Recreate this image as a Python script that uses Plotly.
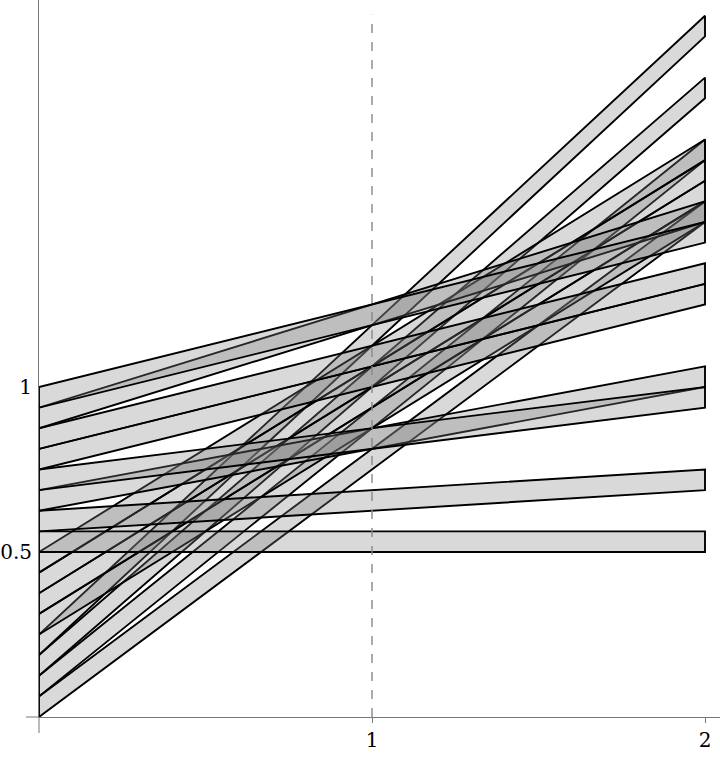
import plotly.graph_objects as go

# bands: lower edge at x=0 and at x=2, each band 1/16 thick
left_low = [0/16, 1/16, 2/16, 3/16, 4/16, 5/16, 6/16, 7/16,
            8/16, 9/16, 10/16, 11/16, 12/16, 13/16, 14/16, 15/16]
right_low = [24/16, 27/16, 30/16, 33/16, 24/16, 25/16, 26/16, 27/16,
             8/16, 11/16, 16/16, 15/16, 20/16, 21/16, 24/16, 23/16]
band_height = 1/16
x_ends = [0, 2]

x_ticks = [1, 2]
y_ticks = [0.5, 1]
y_tick_text = ["0.5", "1"]
marker_x = 1

fig = go.Figure()

for lo, ro in zip(left_low, right_low):
    x0, x1 = x_ends
    fig.add_trace(go.Scatter(
        x=[x0, x1, x1, x0, x0],
        y=[lo, ro, ro + band_height, lo + band_height, lo],
        mode="lines", fill="toself",
        fillcolor="rgba(128,128,128,0.3)",
        line=dict(color="black", width=1.9),
        hoverinfo="skip", showlegend=False,
    ))

# dashed marker at x=1
fig.add_shape(type="line", xref="x", yref="y", x0=marker_x, x1=marker_x,
              y0=0, y1=2.128, line=dict(color="#888888", width=1.4, dash="dash"))
# axis stubs past the origin
fig.add_shape(type="line", xref="paper", yref="paper", x0=-0.019, x1=0, y0=0, y1=0,
              line=dict(color="#777777", width=1))
fig.add_shape(type="line", xref="paper", yref="paper", x0=0, x1=0, y0=-0.0223, y1=0,
              line=dict(color="#777777", width=1))

fig.update_layout(
    width=720, height=757,
    margin=dict(l=39, r=0, t=0, b=40),
    paper_bgcolor="white", plot_bgcolor="white",
    font=dict(family="DejaVu Serif, serif", size=20, color="black"),
    xaxis=dict(range=[0, 2.045], showgrid=False, zeroline=False,
               showline=True, linecolor="#777777", linewidth=1,
               tickvals=x_ticks, ticktext=[str(t) for t in x_ticks],
               ticks="outside", ticklen=5, tickcolor="#777777"),
    yaxis=dict(range=[0, 2.1727], showgrid=False, zeroline=False,
               showline=True, linecolor="#777777", linewidth=1,
               tickvals=y_ticks, ticktext=y_tick_text,
               ticks="", ticklabelstandoff=2),
)

fig.write_html("out.html", config={"displayModeBar": False},
               post_script="document.body.style.margin='0';")
